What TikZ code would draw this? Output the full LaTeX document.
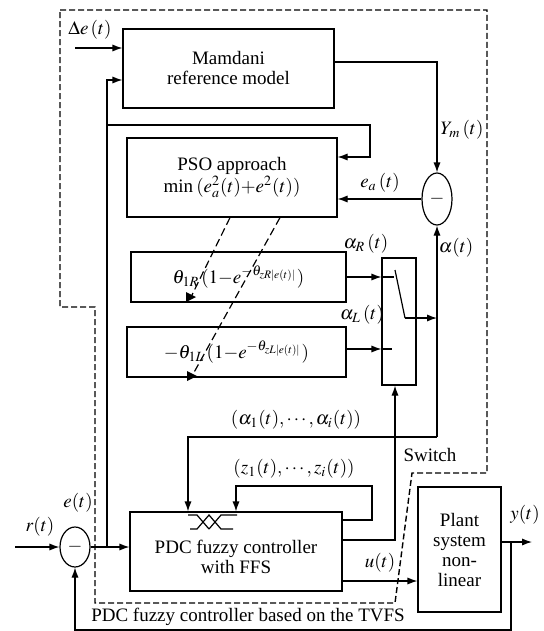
\documentclass[tikz,border=0pt]{standalone}
\usepackage{mathptmx}
\usepackage{fontspec}
\setmainfont{Liberation Serif}
\usepackage{tikz}
\usetikzlibrary{arrows,arrows.meta,shapes,positioning,calc}

\begin{document}
\begin{tikzpicture}[
    x=0.5pt, y=-0.5pt,
    line width=0.6pt,
    >={Latex[length=5pt,width=3.6pt]},
    every node/.style={font=\fontsize{9.5}{10}\selectfont},
    block/.style={rectangle, draw, align=center, inner sep=0pt},
    sum/.style={ellipse, draw, inner sep=0pt, minimum width=15pt},
    lbl/.style={inner sep=1pt},
    tune/.style={dash pattern=on 4pt off 2pt},
    frame/.style={dash pattern=on 3pt off 1.5pt, line width=0.7pt}
]
    \useasboundingbox (0,0) rectangle (543,631);

    % Blocks
    \node[block, minimum width=105.5pt, minimum height=39.5pt] (mamdani) at (228.5,68.5) {Mamdani\\reference model};
    \node[block, minimum width=105pt, minimum height=39.5pt] (pso) at (232,177.5) {PSO approach\\min\,$(e_a^2(t){+}e^2(t))$};
    \node[block, minimum width=107.5pt, minimum height=25pt] (thetaR) at (238.5,277) {$\theta_{1R}\,(1{-}e^{-\theta_{zR|e(t)|}})$};
    \node[block, minimum width=109.5pt, minimum height=25pt] (thetaL) at (236.5,352) {${-}\theta_{1L}\,(1{-}e^{-\theta_{zL|e(t)|}})$};
    \node[block, minimum width=17pt, minimum height=63.5pt] (switch) at (399,321.5) {};
    \node[block, minimum width=106pt, minimum height=39.5pt] (pdc) at (236,551.5) {};
    \node[align=center] (pdctext) at (236,557) {PDC fuzzy controller\\with FFS};
    \node[block, minimum width=41.5pt, minimum height=62.5pt] (plant) at (459.5,549.5) {Plant\\system\\non-\\linear};
    \node[sum, minimum height=26pt] (sumA) at (437,199) {$-$};
    \node[sum, minimum height=20pt] (sumE) at (75,547) {$-$};

    % Corner points
    \coordinate (din) at (75,48);
    \coordinate (tap) at (107,547);
    \coordinate (psofb) at (370,125);
    \coordinate (aj) at (437,437);
    \coordinate (zc) at (372,486);
    \coordinate (bladeA) at (395,270);
    \coordinate (bladeB) at (405,318);
    \coordinate (rin) at (15,547);
    \coordinate (yout) at (532,542);
    \coordinate (fb) at (511,542);
    \coordinate (tipR) at (191,297);
    \coordinate (tipL) at (192,376);

    % Reference model and PSO loop
    \draw[->] (din) -- (din -| mamdani.west);
    \draw[->] (tap) |- ([yshift=-5.75pt]mamdani.west);
    \draw[->] (tap |- psofb) -- (psofb) |- ([yshift=10.25pt]pso.east);
    \draw[->] ([yshift=3.25pt]mamdani.east) -| (sumA.north);
    \draw[->] (sumA.west) -- (sumA.west -| pso.east);
    \draw[->] (aj) -- (sumA.south);

    % Switch
    \draw[->] (thetaR.east) -- (thetaR.east -| switch.west);
    \draw (thetaR.east -| switch.west) -- ++(13,0);
    \draw[->] ([yshift=1.5pt]thetaL.east) -- ([yshift=1.5pt]thetaL.east -| switch.west);
    \draw ([yshift=1.5pt]thetaL.east -| switch.west) -- ++(11,0);
    \draw (bladeA) -- (bladeB);
    \draw[->] (bladeB) -- (bladeB -| aj);

    % Tuning of theta
    \draw[tune] ([xshift=-1pt]pso.south) -- (tipR);
    \draw[tune] ([xshift=24pt]pso.south) -- (tipL);
    \fill (tipR) ++(5,0) -- ++(-10,-5) -- ++(0,10) -- cycle;
    \fill (tipL) ++(5,0) -- ++(-10,-5) -- ++(0,10) -- cycle;

    % PDC controller loops
    \draw[->] (aj) -| ([xshift=-24pt]pdc.north);
    \draw[->] ([yshift=15.75pt]pdc.east) -| (zc) -| (pdc.north);
    \draw[->] ([yshift=5.75pt]pdc.east) -| ([xshift=-2pt]switch.south);
    \draw[->] ([yshift=-14.75pt]pdc.east) -- ([yshift=-14.75pt]pdc.east -| plant.west);
    \draw (188,515) -- (197,515) -- (209,529);
    \draw (190,529) -- (197,529) -- (209,515) -- (221,529) -- (233,529);
    \draw (209,529) -- (221,515) -- (237,515);

    % Plant and feedback
    \draw[->] ([yshift=3.75pt]plant.east) -- (yout);
    \draw[->] (fb) -- ++(0,88) -| (sumE.south);
    \draw[->] (rin) -- (sumE.west);
    \draw[->] (sumE.east) -- (sumE.east -| pdc.west);

    % TVFS frame
    \draw[frame] (60,10) -- (487,10) -- (487,473) -- (412,473) -- (395,603) -- (95,603) -- (95,307) -- (60,307) -- cycle;

    % Signal labels
    \node[lbl] (lde) at (90,30) {$\Delta e\,(t)$};
    \node[lbl] (lym) at (462,130) {$Y_m\,(t)$};
    \node[lbl] (lea) at (380,183) {$e_a\,(t)$};
    \node[lbl] (lal) at (456,248) {$\alpha(t)$};
    \node[lbl] (lar) at (366,244) {$\alpha_R\,(t)$};
    \node[lbl] (lalL) at (362,315) {$\alpha_L\,(t)$};
    \node[lbl] (lai) at (296,420) {$(\alpha_1(t),\cdots,\alpha_i(t))$};
    \node[lbl] (lzi) at (294,469) {$(z_1(t),\cdots,z_i(t))$};
    \node[lbl] (lsw) at (430,455) {Switch};
    \node[lbl] (lu) at (380,563) {$u(t)$};
    \node[lbl] (ly) at (525,515) {$y(t)$};
    \node[lbl] (lr) at (40,527) {$r(t)$};
    \node[lbl] (le) at (78,503) {$e(t)$};
    \node[lbl] (ltvfs) at (248,617) {PDC fuzzy controller based on the TVFS};
\end{tikzpicture}
\end{document}
